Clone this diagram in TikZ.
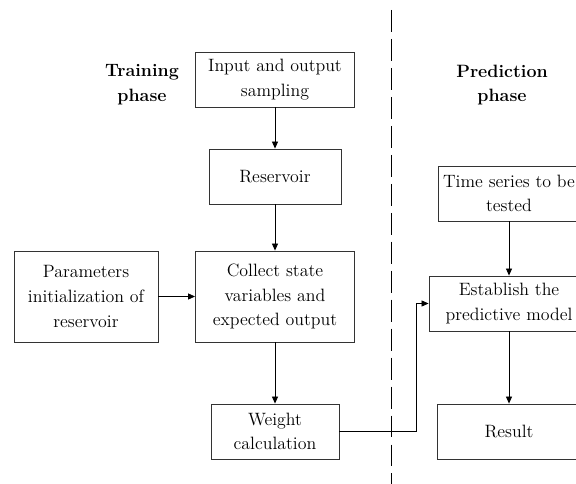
\documentclass[tikz,border=0pt]{standalone}
\usepackage{amsmath}
\usepackage{tikz}
\usetikzlibrary{arrows.meta}

\tikzset{
  box/.style={draw=black!80, line width=0.6pt, align=center, inner sep=0pt,
    minimum height=1.375cm, font=\fontsize{12.7}{17.6}\selectfont},
  phase/.style={align=center, font=\fontsize{12.7}{17.6}\selectfont\bfseries},
  arr/.style={line width=0.6pt, -{Triangle[length=5pt,width=4.3pt]}}
}

\begin{document}
\begin{tikzpicture}[x=0.025cm,y=-0.025cm]
\useasboundingbox (0,0) rectangle (576,484);
\clip (0,0) rectangle (576,484);
\fill[white] (0,0) rectangle (576,484);

% training side
\node[phase] (train) at (142,85) {Training\\phase};
\node[box, minimum width=3.975cm] (inp) at (275,79.5) {Input and output\\sampling};
\node[box, minimum width=3.3cm] (res) at (275,176.5) {Reservoir};
\node[box, minimum width=3.975cm, minimum height=2.275cm] (col) at (275,296.5) {Collect state\\variables and\\expected output};
\node[box, minimum width=3.6cm, minimum height=2.275cm] (par) at (86,296.5) {Parameters\\initialization of\\reservoir};
\node[box, minimum width=3.2cm] (wgt) at (275,431.5) {Weight\\calculation};

% prediction side
\node[phase] (pred) at (502,85) {Prediction\\phase};
\node[box, minimum width=3.55cm] (tim) at (509,193.5) {Time series to be\\tested};
\node[box, minimum width=4cm] (est) at (509,303.5) {Establish the\\predictive model};
\node[box, minimum width=3.6cm] (rsl) at (509,431.5) {Result};

% divider
\coordinate (top) at (391,10);
\coordinate (bot) at (391,484);
\draw[line width=0.7pt, dash pattern=on 15.6pt off 5pt] (top) -- (bot);

% arrows
\draw[arr] (inp) -- (res);
\draw[arr] (res) -- (col);
\draw[arr] (par) -- (col);
\draw[arr] (col) -- (wgt);
\draw[arr] (wgt.east) -- ++(77,0) |- (est.west);
\draw[arr] (tim) -- (est);
\draw[arr] (est) -- (rsl);
\end{tikzpicture}
\end{document}
